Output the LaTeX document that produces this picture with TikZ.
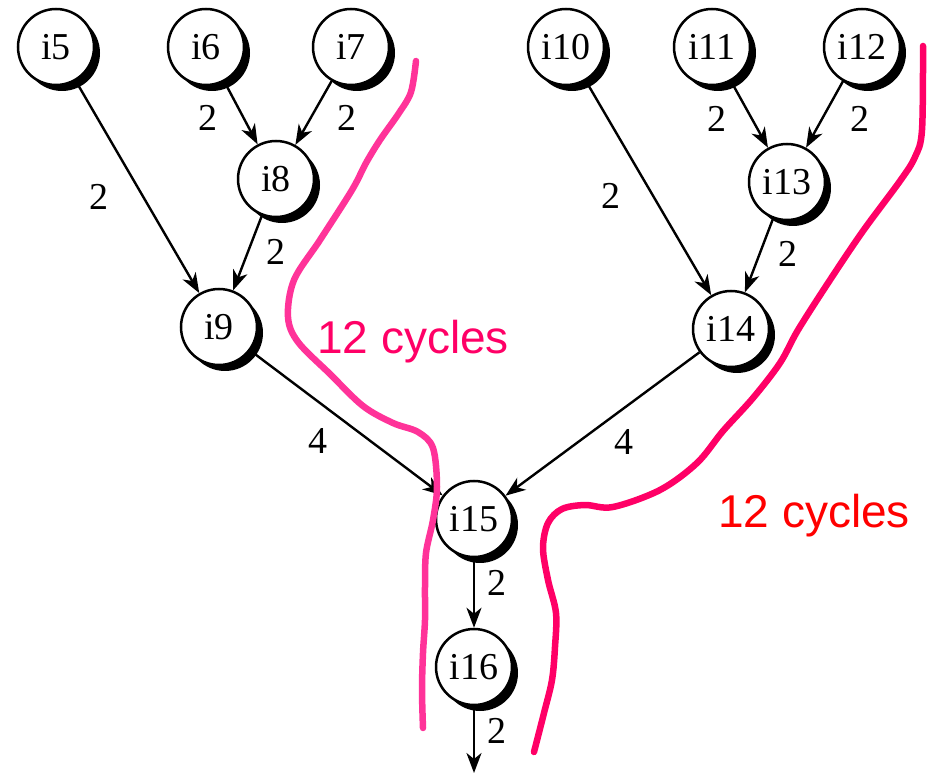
\documentclass[tikz,border=0pt]{standalone}
\usepackage{fontspec}
\setmainfont{Liberation Serif}
\newfontfamily\cyclefont{Liberation Sans}
\usetikzlibrary{arrows.meta,shadows}
\pgfdeclarelayer{background}
\pgfsetlayers{background,main}
\definecolor{cutpink}{HTML}{FF3399}
\definecolor{cutrose}{HTML}{FF0066}
\definecolor{cutred}{HTML}{FF0000}
\begin{document}
\begin{tikzpicture}[x=1pt,y=-1pt,
  op/.style={circle, draw, line width=2.5pt, fill=white, minimum size=76pt,
    inner sep=0pt, font=\fontsize{38}{40}\selectfont,
    drop shadow={shadow xshift=6pt, shadow yshift=-6pt, fill=black, opacity=1}},
  dep/.style={line width=2.4pt, -{Stealth[length=20pt, width=15pt, inset=6pt]}},
  lat/.style={font=\fontsize{38}{40}\selectfont, inner sep=0pt},
  cut/.style={line width=6.5pt, line cap=round, line join=round},
  cyc/.style={font=\cyclefont\fontsize{46}{48}\selectfont, inner sep=0pt, anchor=base west}]
\useasboundingbox (0,0) rectangle (930,775);

% operation nodes
\node[op] (i5)  at (56,47)  {i5};
\node[op] (i6)  at (206,47) {i6};
\node[op] (i7)  at (351,47) {i7};
\node[op] (i8)  at (276,179) {i8};
\node[op] (i9)  at (219,327) {i9};
\node[op] (i10) at (566,47) {i10};
\node[op] (i11) at (712,47) {i11};
\node[op] (i12) at (862,47) {i12};
\node[op] (i13) at (787,182) {i13};
\node[op] (i14) at (731,329) {i14};
\node[op] (i15) at (474,519) {i15};
\node[op] (i16) at (474,667) {i16};
\coordinate (out) at (474,773);

% dependences with their latencies
\begin{pgfonlayer}{background}
\draw[dep] (i5) -- (i9);
\draw[dep] (i6) -- (i8);
\draw[dep] (i7) -- (i8);
\draw[dep] (i8) -- (i9);
\draw[dep] (i9) -- (i15);
\draw[dep] (i10) -- (i14);
\draw[dep] (i11) -- (i13);
\draw[dep] (i12) -- (i13);
\draw[dep] (i13) -- (i14);
\draw[dep] (i14) -- (i15);
\draw[dep] (i15) -- (i16);
\draw[dep] (i16) -- (out);
\end{pgfonlayer}

\node[lat] (l59)   at (99,197)  {2};
\node[lat] (l68)   at (208,118) {2};
\node[lat] (l78)   at (347,118) {2};
\node[lat] (l89)   at (276,252) {2};
\node[lat] (l915)  at (318,441) {4};
\node[lat] (l1014) at (611,196) {2};
\node[lat] (l1113) at (717,119) {2};
\node[lat] (l1213) at (860,119) {2};
\node[lat] (l1314) at (788,254) {2};
\node[lat] (l1415) at (624,442) {4};
\node[lat] (l1516) at (497,583) {2};
\node[lat] (l16o)  at (497,731) {2};

% schedule cuts
\draw[cut, cutpink] plot[smooth, tension=0.55] coordinates {
  (416,61) (411,92) (399,113) (380,140) (366,163) (352,190) (320,240)
  (294,280) (288,317) (298,342) (330,374) (363,406) (393,423) (418,432)
  (433,448) (437,487) (433,520) (426,553) (425,587) (425,620) (423,653)
  (422,690) (423,728)};
\draw[cut, cutrose] plot[smooth, tension=0.55] coordinates {
  (923,46) (922,130) (915,157) (900,181) (863,231) (830,280) (798,330)
  (780,363) (753,398) (723,431) (697,463) (660,490) (613,507) (585,505)
  (562,509) (548,523) (543,548) (548,580) (556,613) (555,647) (552,680)
  (544,713) (534,752)};

\node[cyc, text=cutrose] (c1) at (317,354) {12 cycles};
\node[cyc, text=cutred]  (c2) at (718,528) {12 cycles};
\end{tikzpicture}
\end{document}
